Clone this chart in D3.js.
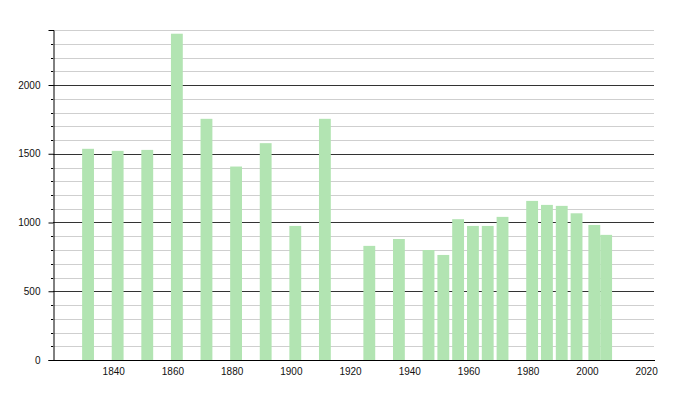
<!DOCTYPE html>
<html>
<head>
<meta charset="utf-8">
<script src="https://cdn.jsdelivr.net/npm/d3@7"></script>
<style>
  html, body { margin: 0; padding: 0; background: #fff; }
  svg { display: block; }
  text { font-family: "Liberation Sans", Arial, sans-serif; font-size: 10px; fill: #111; }
</style>
</head>
<body>
<svg id="chart" width="700" height="400"></svg>
<script>
const years = [1831, 1841, 1851, 1861, 1871, 1881, 1891, 1901, 1911, 1926, 1936,
               1946, 1951, 1956, 1961, 1966, 1971, 1981, 1986, 1991, 1996, 2002, 2006];
const population = [1536, 1521, 1528, 2373, 1754, 1407, 1577, 975, 1754, 830, 880,
                     800, 764, 1024, 975, 975, 1041, 1157, 1128, 1121, 1067, 982, 910];
const xTicks = [1840, 1860, 1880, 1900, 1920, 1940, 1960, 1980, 2000, 2020];
const yMajorTicks = [0, 500, 1000, 1500, 2000];
const yMinorTicks = d3.range(0, 2401, 100);

(function () {
const svg = d3.select("#chart");
const mLeft = 53, mRight = 654, mTop = 30, mBottom = 360;

const x = d3.scaleLinear().domain([1820, 2023]).range([54, 655]);
const y = d3.scaleLinear().domain([0, 2400]).range([mBottom, mTop]);

// minor gridlines
svg.append("g").selectAll("line").data(yMinorTicks.filter(v => v % 500 !== 0)).join("line")
  .attr("x1", mLeft).attr("x2", mRight)
  .attr("y1", d => Math.round(y(d)) + 0.5).attr("y2", d => Math.round(y(d)) + 0.5)
  .attr("stroke", "#cfcfcf").attr("stroke-width", 1);
// major gridlines
svg.append("g").selectAll("line").data(yMajorTicks.filter(v => v > 0)).join("line")
  .attr("x1", mLeft).attr("x2", mRight)
  .attr("y1", d => Math.round(y(d)) + 0.5).attr("y2", d => Math.round(y(d)) + 0.5)
  .attr("stroke", "#333").attr("stroke-width", 1);

// bars
const data = years.map((yr, i) => ({ year: yr, value: population[i] }));
svg.append("g").selectAll("rect").data(data).join("rect")
  .attr("x", d => x(d.year - 1.5))
  .attr("width", d => x(d.year + 2.5) - x(d.year - 1.5))
  .attr("y", d => y(d.value))
  .attr("height", d => y(0) - y(d.value))
  .attr("fill", "#b2e4b2");

// y axis
const yAxis = d3.axisLeft(y).tickValues(yMajorTicks).tickFormat(d3.format("d")).tickSize(5).tickPadding(8);
const gy = svg.append("g").attr("transform", `translate(${mLeft + 0.5},0)`).call(yAxis);
gy.select(".domain").attr("stroke", "#000");
gy.selectAll(".tick line").attr("stroke", "#000");
gy.selectAll("text").style("font-family", "'Liberation Sans', Arial, sans-serif").style("font-size", "10px").attr("fill", "#111");
// minor y ticks
svg.append("g").selectAll("line").data(yMinorTicks.filter(v => v % 500 !== 0)).join("line")
  .attr("x1", mLeft - 2).attr("x2", mLeft)
  .attr("y1", d => Math.round(y(d)) + 0.5).attr("y2", d => Math.round(y(d)) + 0.5)
  .attr("stroke", "#000");

// x axis
const xAxis = d3.axisBottom(x).tickValues(xTicks).tickFormat(d3.format("d")).tickSize(0).tickPadding(7);
const gx = svg.append("g").attr("transform", `translate(0,${mBottom + 0.5})`).call(xAxis);
gx.select(".domain").attr("stroke", "#000").attr("d", `M${mLeft},0H655`);
gx.selectAll("text").style("font-family", "'Liberation Sans', Arial, sans-serif").style("font-size", "10px").attr("fill", "#111");
})();
</script>
</body>
</html>
